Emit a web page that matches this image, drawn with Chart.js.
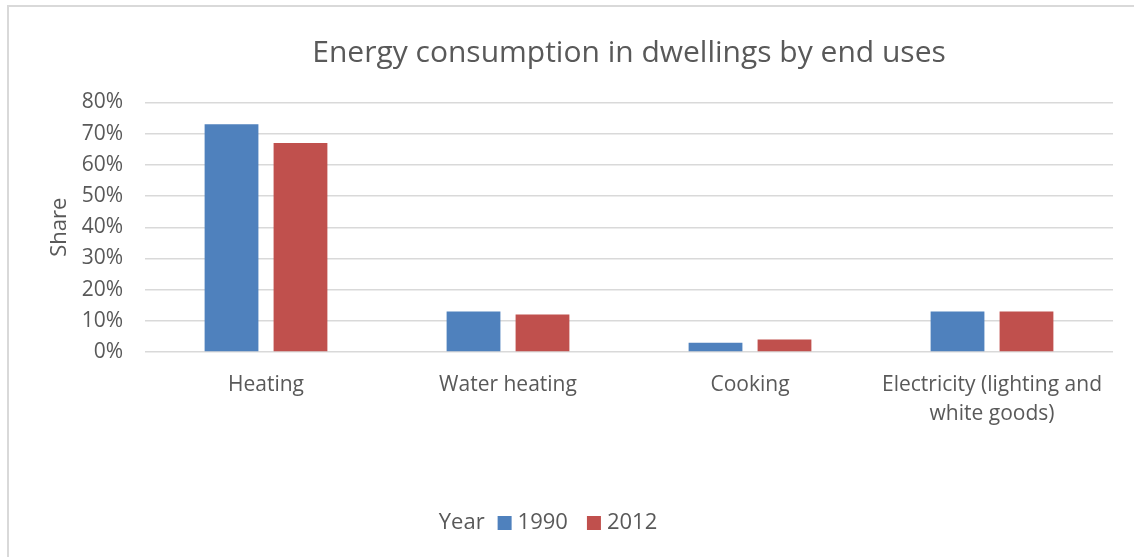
<!DOCTYPE html>
<html>
<head>
<meta charset="utf-8">
<title>Energy consumption in dwellings</title>
<script src="https://cdn.jsdelivr.net/npm/chart.js@4.4.1/dist/chart.umd.min.js"></script>
<style>
    body { margin: 0; background: #fff; }
    #wrap { position: relative; width: 1134px; height: 557px; }
    #wrap canvas { position: absolute; left: 0; top: 0; }
    #frame {
        position: absolute; left: 7px; top: 5px; right: 0; bottom: 0;
        border-left: 2px solid #d9d9d9; border-top: 2px solid #d9d9d9;
        pointer-events: none;
    }
</style>
</head>
<body>
<div id="wrap">
    <canvas id="chart" width="1134" height="557"></canvas>
    <div id="frame"></div>
</div>
<script>
// ==================== DATOS ====================
const categories = ['Heating', 'Water heating', 'Cooking', ['Electricity (lighting and', 'white goods)']];
const years = ['1990', '2012'];
const share1990 = [73, 13, 3, 13];
const share2012 = [67, 12, 4, 13];
const yMax = 80;
const yStep = 10;

const textColor = '#595959';
const fontFamily = "'Open Sans', sans-serif";

Chart.defaults.font.family = fontFamily;
Chart.defaults.color = textColor;

// Leyenda en una sola línea: "Year ■ 1990 ■ 2012"
const yearLegend = {
    id: 'yearLegend',
    afterDraw(chart) {
        const ctx = chart.ctx;
        const sets = chart.data.datasets;
        const box = 14;
        const centerX = 548;
        const y = 523;

        ctx.save();
        ctx.font = '22px ' + fontFamily;
        ctx.textBaseline = 'middle';
        ctx.textAlign = 'left';

        let total = ctx.measureText('Year').width + 13;
        sets.forEach((ds, i) => {
            total += box + 6 + ctx.measureText(ds.label).width;
            if (i < sets.length - 1) total += 19;
        });

        let x = centerX - total / 2;
        ctx.fillStyle = textColor;
        ctx.fillText('Year', x, y);
        x += ctx.measureText('Year').width + 13;

        sets.forEach((ds) => {
            ctx.fillStyle = ds.backgroundColor;
            ctx.fillRect(x, y - box / 2, box, box);
            x += box + 6;
            ctx.fillStyle = textColor;
            ctx.fillText(ds.label, x, y);
            x += ctx.measureText(ds.label).width + 19;
        });
        ctx.restore();
    }
};

// ==================== CHART ====================
const ctx = document.getElementById('chart').getContext('2d');

const chart = new Chart(ctx, {
    type: 'bar',
    data: {
        labels: categories,
        datasets: [{
            label: years[0],
            data: share1990,
            backgroundColor: '#4f81bd'
        }, {
            label: years[1],
            data: share2012,
            backgroundColor: '#c0504d'
        }]
    },
    options: {
        animation: false,
        responsive: false,
        categoryPercentage: 0.57,
        barPercentage: 0.78,
        layout: {
            padding: { left: 10, right: 21, top: 0, bottom: 0 }
        },
        plugins: {
            legend: { display: false },
            tooltip: { enabled: false },
            title: {
                display: true,
                fullSize: false,
                text: 'Energy consumption in dwellings by end uses',
                color: textColor,
                font: { size: 30, weight: 'normal' },
                padding: { top: 35, bottom: 31.5 }
            }
        },
        scales: {
            x: {
                grid: { display: false },
                border: { display: false },
                ticks: {
                    color: textColor,
                    font: { size: 21, lineHeight: 1.4 },
                    padding: 10,
                    maxRotation: 0,
                    autoSkip: false
                },
                afterFit: (scale) => { scale.height = 205; }
            },
            y: {
                min: 0,
                max: yMax,
                grid: { color: '#d9d9d9', lineWidth: 1.5, drawTicks: false },
                border: { display: false },
                ticks: {
                    stepSize: yStep,
                    color: textColor,
                    font: { size: 21 },
                    padding: 22,
                    callback: (v) => v + '%'
                },
                title: {
                    display: true,
                    text: 'Share',
                    color: textColor,
                    font: { size: 22 },
                    padding: { top: 37, bottom: 0 }
                },
                afterFit: (scale) => { scale.width = 135; }
            }
        }
    },
    plugins: [yearLegend]
});
</script>
</body>
</html>
